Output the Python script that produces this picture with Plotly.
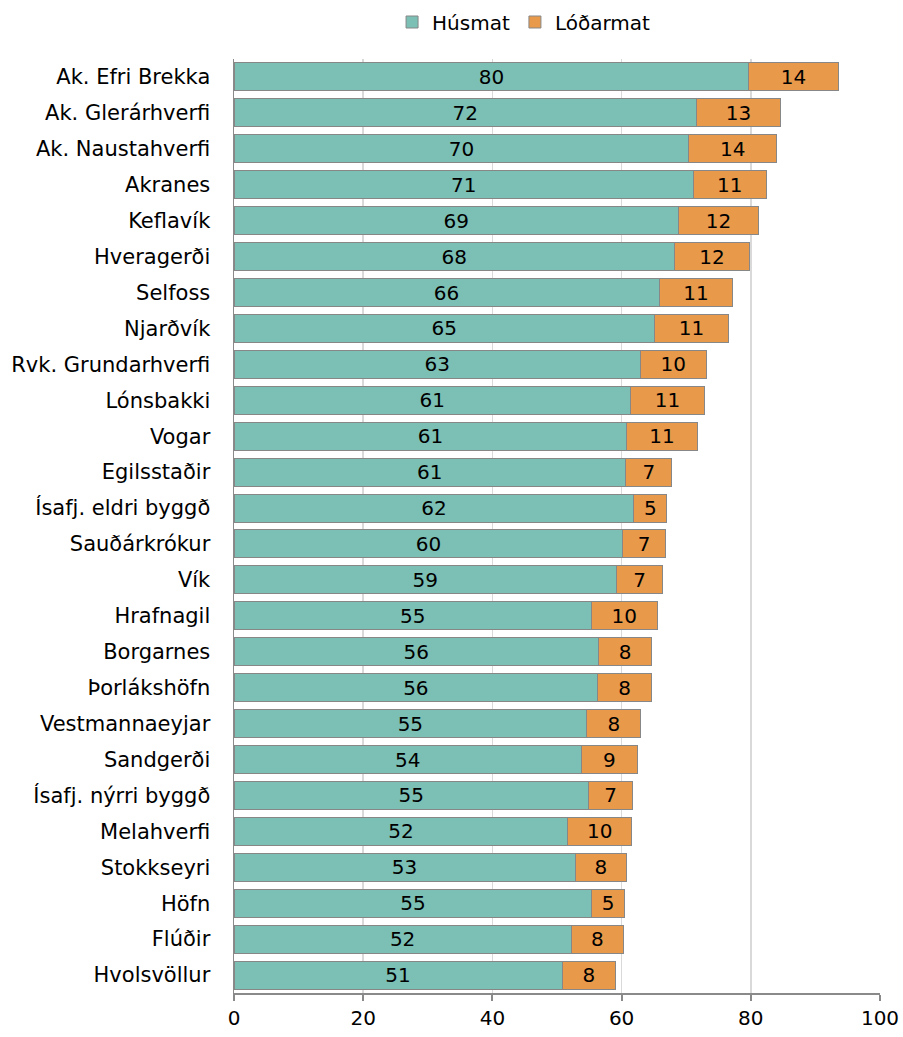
import plotly.graph_objects as go

categories = ["Ak. Efri Brekka", "Ak. Glerárhverfi", "Ak. Naustahverfi", "Akranes", "Keflavík",
              "Hveragerði", "Selfoss", "Njarðvík", "Rvk. Grundarhverfi", "Lónsbakki", "Vogar",
              "Egilsstaðir", "Ísafj. eldri byggð", "Sauðárkrókur", "Vík", "Hrafnagil", "Borgarnes",
              "Þorlákshöfn", "Vestmannaeyjar", "Sandgerði", "Ísafj. nýrri byggð", "Melahverfi",
              "Stokkseyri", "Höfn", "Flúðir", "Hvolsvöllur"]
husmat = [79.7, 71.6, 70.4, 71.1, 68.8, 68.2, 65.8, 65.1, 62.9, 61.4, 60.8, 60.6, 61.9,
          60.2, 59.2, 55.3, 56.4, 56.3, 54.6, 53.8, 54.9, 51.7, 52.8, 55.4, 52.2, 50.8]
lodarmat = [13.8, 13.0, 13.6, 11.3, 12.4, 11.6, 11.4, 11.4, 10.2, 11.4, 10.9, 7.2, 5.1,
            6.6, 7.2, 10.2, 8.3, 8.3, 8.4, 8.6, 6.8, 9.8, 8.0, 5.0, 8.1, 8.3]
x_ticks = [0, 20, 40, 60, 80, 100]

FONT = "Tahoma, DejaVu Sans, sans-serif"
fig = go.Figure()
fig.add_trace(go.Bar(
    y=categories, x=husmat, name="Húsmat", orientation="h",
    marker=dict(color="#7BBFB5", line=dict(color="#878787", width=1)),
    texttemplate="%{x:.0f}", textposition="inside", insidetextanchor="middle",
    textangle=0, textfont=dict(color="black", size=20, family=FONT),
    hoverinfo="skip"))
fig.add_trace(go.Bar(
    y=categories, x=lodarmat, name="Lóðarmat", orientation="h",
    marker=dict(color="#E8994A", line=dict(color="#878787", width=1)),
    texttemplate="%{x:.0f}", textposition="inside", insidetextanchor="middle",
    textangle=0, textfont=dict(color="black", size=20, family=FONT),
    hoverinfo="skip"))

fig.update_layout(
    width=903, height=1037, barmode="stack", bargap=0.22,
    paper_bgcolor="white", plot_bgcolor="white",
    margin=dict(l=234, r=23, t=59, b=44, autoexpand=False),
    font=dict(family=FONT, size=21, color="black"),
    showlegend=True,
    legend=dict(orientation="h", x=0.449, xanchor="center", y=1 - 22 / 1037, yref="container",
                yanchor="middle", font=dict(size=20), traceorder="normal",
                itemwidth=30, tracegroupgap=0),
    uniformtext=dict(minsize=20, mode="show"),
)
fig.update_xaxes(range=[0, 100], tickvals=x_ticks, showgrid=True, gridcolor="#D9D9D9",
                 gridwidth=1.5, showline=True, linecolor="#8A8A8A", linewidth=2,
                 ticks="outside", ticklen=6, tickcolor="#8A8A8A", tickwidth=2,
                 tickfont=dict(size=20), zeroline=False, automargin=False)
fig.update_yaxes(autorange="reversed", showline=True, linecolor="#8A8A8A", linewidth=1.5,
                 ticks="", tickfont=dict(size=21), ticklabelstandoff=18, automargin=False)

fig.write_html("out.html", config={"displayModeBar": False, "staticPlot": True},
               post_script="document.body.style.margin='0';document.body.style.overflow='hidden';")
